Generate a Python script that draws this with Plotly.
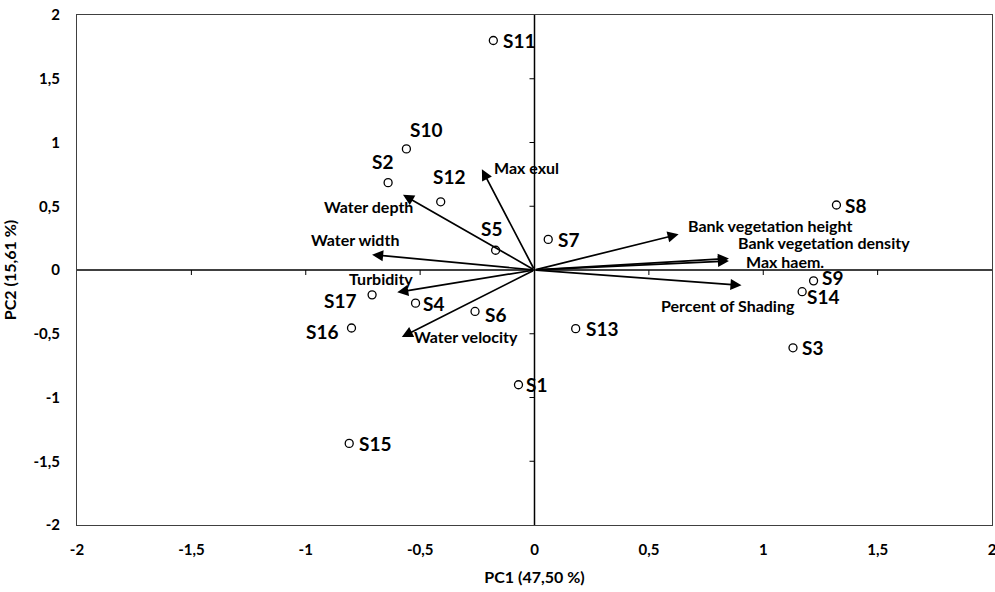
import plotly.graph_objects as go

# Site scores (PC1, PC2)
sites = ["S1", "S2", "S3", "S4", "S5", "S6", "S7", "S8", "S9", "S10",
         "S11", "S12", "S13", "S14", "S15", "S16", "S17"]
site_pc1 = [-0.07, -0.64, 1.13, -0.52, -0.17, -0.26, 0.06, 1.32, 1.22, -0.56,
            -0.18, -0.41, 0.18, 1.17, -0.81, -0.80, -0.71]
site_pc2 = [-0.90, 0.685, -0.61, -0.26, 0.155, -0.325, 0.24, 0.51, -0.085, 0.95,
            1.80, 0.535, -0.46, -0.17, -1.36, -0.455, -0.195]

# Variable loadings (arrow tips)
variables = ["Max exul", "Water depth", "Water width", "Turbidity", "Water velocity",
             "Bank vegetation height", "Bank vegetation density", "Max haem.",
             "Percent of Shading"]
var_pc1 = [-0.23, -0.575, -0.71, -0.60, -0.58, 0.63, 0.85, 0.85, 0.905]
var_pc2 = [0.79, 0.59, 0.12, -0.175, -0.525, 0.28, 0.09, 0.07, -0.12]

# Axis ticks
x_ticks = [-2, -1.5, -1, -0.5, 0, 0.5, 1, 1.5, 2]
x_tick_labels = ["-2", "-1,5", "-1", "-0,5", "0", "0,5", "1", "1,5", "2"]
y_ticks = [-2, -1.5, -1, -0.5, 0, 0.5, 1, 1.5, 2]
y_tick_labels = ["-2", "-1,5", "-1", "-0,5", "0", "0,5", "1", "1,5", "2"]

# Label placement styles (pixel offsets, anchors)
site_label_style = {
    "S1": (6, 0, "left", "middle"), "S2": (-6, 8, "center", "bottom"),
    "S3": (7, 0, "left", "middle"), "S4": (5, 0, "left", "middle"),
    "S5": (-4, 8, "center", "bottom"), "S6": (8, -3, "left", "middle"),
    "S7": (8, 0, "left", "middle"), "S8": (7, -1, "left", "middle"),
    "S9": (6, 3, "left", "middle"), "S10": (2, 6, "left", "bottom"),
    "S11": (8, 0, "left", "middle"), "S12": (-10, 12, "left", "bottom"),
    "S13": (8, 0, "left", "middle"), "S14": (3, -5, "left", "middle"),
    "S15": (8, 0, "left", "middle"), "S16": (-12, -3, "right", "middle"),
    "S17": (-14, -6, "right", "middle"),
}
var_label_style = {
    "Max exul": (10, 2, "left", "middle"),
    "Water depth": (12, -12, "right", "middle"),
    "Water width": (29, 15, "right", "middle"),
    "Turbidity": (18, 14, "right", "middle"),
    "Water velocity": (10, 0, "left", "middle"),
    "Bank vegetation height": (7, 9, "left", "middle"),
    "Bank vegetation density": (7, 16, "left", "middle"),
    "Max haem.": (15, 0, "left", "middle"),
    "Percent of Shading": (-83, -20, "left", "middle"),
}

FONT = "Lato, 'Open Sans', sans-serif"

fig = go.Figure()

fig.add_trace(go.Scatter(
    x=site_pc1, y=site_pc2, mode="markers",
    marker=dict(symbol="circle-open", size=8, color="black", line=dict(width=1.3)),
    hovertext=sites, showlegend=False,
))

annotations = []
for name, px, py in zip(sites, site_pc1, site_pc2):
    dx, dy, xa, ya = site_label_style[name]
    annotations.append(dict(
        x=px, y=py, xref="x", yref="y", text=f"<b>{name}</b>", showarrow=False,
        xanchor=xa, yanchor=ya, xshift=dx, yshift=dy,
        font=dict(family=FONT, size=19, color="black"),
    ))

for name, vx, vy in zip(variables, var_pc1, var_pc2):
    annotations.append(dict(
        x=vx, y=vy, ax=0, ay=0, xref="x", yref="y", axref="x", ayref="y",
        text="", showarrow=True, arrowhead=2, arrowsize=1.3, arrowwidth=1.7,
        arrowcolor="black",
    ))
    dx, dy, xa, ya = var_label_style[name]
    annotations.append(dict(
        x=vx, y=vy, xref="x", yref="y", text=f"<b>{name}</b>", showarrow=False,
        xanchor=xa, yanchor=ya, xshift=dx, yshift=dy,
        font=dict(family=FONT, size=16, color="black"),
    ))

shapes = []
# axes through origin
shapes.append(dict(type="line", xref="x", yref="y", x0=x_ticks[0], x1=x_ticks[-1], y0=0, y1=0,
                   line=dict(color="black", width=1.5)))
shapes.append(dict(type="line", xref="x", yref="y", x0=0, x1=0, y0=y_ticks[0], y1=y_ticks[-1],
                   line=dict(color="black", width=1.5)))
for t in x_ticks[1:-1]:
    shapes.append(dict(type="line", xref="x", yref="y", x0=t, x1=t, ysizemode="pixel",
                       yanchor=0, y0=0, y1=-5, line=dict(color="black", width=1)))
for t in y_ticks[1:-1]:
    shapes.append(dict(type="line", xref="x", yref="y", y0=t, y1=t, xsizemode="pixel",
                       xanchor=0, x0=0, x1=-5, line=dict(color="black", width=1)))

fig.update_layout(
    width=995, height=592,
    margin=dict(l=77, r=3, t=15, b=67),
    paper_bgcolor="white", plot_bgcolor="white",
    font=dict(family=FONT, color="black"),
    annotations=annotations, shapes=shapes,
    xaxis=dict(range=[-2, 2], tickvals=x_ticks,
               ticktext=[f"<b>{t}</b>" for t in x_tick_labels],
               showgrid=False, zeroline=False, showline=True, mirror=True,
               linecolor="#404040", linewidth=1, ticks="", automargin=False,
               ticklabelstandoff=11, ticklabeloverflow="allow",
               tickfont=dict(family=FONT, size=15, color="black"),
               title=dict(text="<b>PC1 (47,50 %)</b>", font=dict(family=FONT, size=16), standoff=14)),
    yaxis=dict(range=[-2, 2], tickvals=y_ticks,
               ticktext=[f"<b>{t}</b>" for t in y_tick_labels],
               showgrid=False, zeroline=False, showline=True, mirror=True,
               linecolor="#404040", linewidth=1, ticks="", automargin=False,
               ticklabelstandoff=13, ticklabeloverflow="allow",
               tickfont=dict(family=FONT, size=15, color="black"),
               title=dict(text="<b>PC2 (15,61 %)</b>", font=dict(family=FONT, size=16), standoff=20)),
)

fig.write_html("out.html", config={"displayModeBar": False},
               post_script="document.body.style.margin='0';document.body.style.overflow='hidden';")
